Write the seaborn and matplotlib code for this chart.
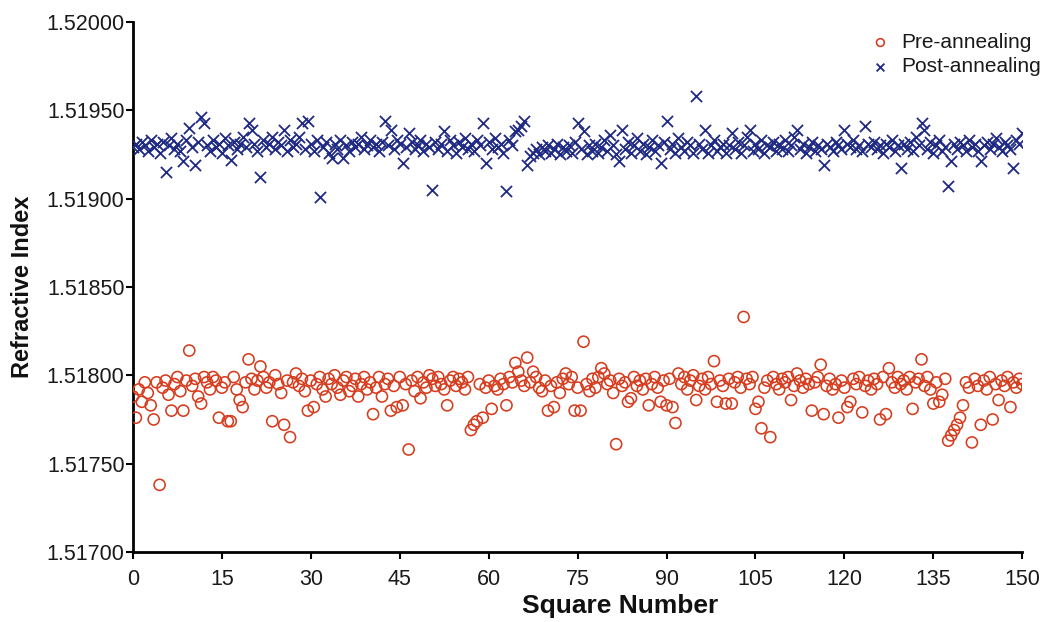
import numpy as np
import pandas as pd
import matplotlib
matplotlib.use("Agg")
import matplotlib.pyplot as plt
from matplotlib.ticker import FormatStrFormatter
import seaborn as sns

# Square numbers (two measurements per unit step)
square = np.arange(0, 150.5, 0.5)

# Refractive index before annealing
pre_annealing = [
    1.51788, 1.51776, 1.51792, 1.51785, 1.51796, 1.51790, 1.51783, 1.51775, 1.51796, 1.51738,
    1.51793, 1.51797, 1.51789, 1.51780, 1.51795, 1.51799, 1.51791, 1.51780, 1.51797, 1.51814,
    1.51794, 1.51798, 1.51788, 1.51784, 1.51799, 1.51796, 1.51792, 1.51799, 1.51797, 1.51776,
    1.51793, 1.51796, 1.51774, 1.51774, 1.51799, 1.51792, 1.51786, 1.51782, 1.51796, 1.51809,
    1.51798, 1.51792, 1.51797, 1.51805, 1.51799, 1.51793, 1.51796, 1.51774, 1.51800, 1.51795,
    1.51790, 1.51772, 1.51797, 1.51765, 1.51796, 1.51801, 1.51794, 1.51798, 1.51791, 1.51780,
    1.51797, 1.51782, 1.51795, 1.51799, 1.51792, 1.51788, 1.51798, 1.51795, 1.51800, 1.51793,
    1.51789, 1.51797, 1.51799, 1.51791, 1.51794, 1.51798, 1.51788, 1.51795, 1.51799, 1.51792,
    1.51796, 1.51778, 1.51793, 1.51799, 1.51788, 1.51795, 1.51798, 1.51780, 1.51794, 1.51782,
    1.51799, 1.51783, 1.51795, 1.51758, 1.51797, 1.51791, 1.51799, 1.51787, 1.51796, 1.51793,
    1.51800, 1.51798, 1.51794, 1.51799, 1.51795, 1.51792, 1.51783, 1.51797, 1.51799, 1.51794,
    1.51798, 1.51796, 1.51792, 1.51799, 1.51769, 1.51772, 1.51774, 1.51795, 1.51776, 1.51793,
    1.51797, 1.51781, 1.51794, 1.51792, 1.51798, 1.51795, 1.51783, 1.51799, 1.51796, 1.51807,
    1.51802, 1.51797, 1.51794, 1.51810, 1.51796, 1.51802, 1.51799, 1.51793, 1.51791, 1.51797,
    1.51780, 1.51794, 1.51782, 1.51796, 1.51790, 1.51798, 1.51801, 1.51795, 1.51799, 1.51780,
    1.51793, 1.51780, 1.51819, 1.51795, 1.51791, 1.51798, 1.51793, 1.51799, 1.51804, 1.51801,
    1.51795, 1.51797, 1.51790, 1.51761, 1.51798, 1.51794, 1.51796, 1.51785, 1.51787, 1.51799,
    1.51794, 1.51797, 1.51792, 1.51798, 1.51783, 1.51795, 1.51799, 1.51793, 1.51785, 1.51797,
    1.51783, 1.51798, 1.51782, 1.51773, 1.51801, 1.51795, 1.51799, 1.51792, 1.51797, 1.51800,
    1.51786, 1.51794, 1.51798, 1.51792, 1.51799, 1.51795, 1.51808, 1.51785, 1.51797, 1.51794,
    1.51784, 1.51798, 1.51784, 1.51796, 1.51799, 1.51793, 1.51833, 1.51798, 1.51795, 1.51799,
    1.51781, 1.51785, 1.51770, 1.51793, 1.51797, 1.51765, 1.51799, 1.51795, 1.51792, 1.51798,
    1.51796, 1.51799, 1.51786, 1.51794, 1.51801, 1.51797, 1.51793, 1.51798, 1.51795, 1.51780,
    1.51796, 1.51799, 1.51806, 1.51778, 1.51794, 1.51798, 1.51792, 1.51795, 1.51776, 1.51797,
    1.51793, 1.51782, 1.51785, 1.51798, 1.51795, 1.51799, 1.51779, 1.51794, 1.51797, 1.51792,
    1.51798, 1.51795, 1.51775, 1.51799, 1.51778, 1.51804, 1.51796, 1.51793, 1.51799, 1.51795,
    1.51797, 1.51792, 1.51799, 1.51781, 1.51796, 1.51798, 1.51809, 1.51794, 1.51799, 1.51792,
    1.51784, 1.51796, 1.51785, 1.51789, 1.51798, 1.51763, 1.51766, 1.51769, 1.51772, 1.51776,
    1.51783, 1.51796, 1.51793, 1.51762, 1.51798, 1.51794, 1.51772, 1.51797, 1.51792, 1.51799,
    1.51775, 1.51795, 1.51786, 1.51797, 1.51794, 1.51799, 1.51782, 1.51796, 1.51793, 1.51798,
    1.51795,
]

# Refractive index after annealing
post_annealing = [
    1.51929, 1.51931, 1.51928, 1.51932, 1.51930, 1.51927, 1.51933, 1.51929, 1.51931, 1.51926,
    1.51932, 1.51915, 1.51930, 1.51934, 1.51928, 1.51931, 1.51927, 1.51921, 1.51933, 1.51940,
    1.51929, 1.51919, 1.51932, 1.51946, 1.51943, 1.51930, 1.51927, 1.51933, 1.51929, 1.51931,
    1.51926, 1.51934, 1.51930, 1.51922, 1.51932, 1.51928, 1.51931, 1.51935, 1.51929, 1.51943,
    1.51939, 1.51931, 1.51927, 1.51912, 1.51933, 1.51929, 1.51931, 1.51935, 1.51928, 1.51932,
    1.51930, 1.51939, 1.51927, 1.51933, 1.51929, 1.51931, 1.51935, 1.51943, 1.51928, 1.51944,
    1.51931, 1.51927, 1.51933, 1.51901, 1.51929, 1.51932, 1.51926, 1.51923, 1.51931, 1.51928,
    1.51933, 1.51923, 1.51930, 1.51927, 1.51932, 1.51929, 1.51931, 1.51935, 1.51928, 1.51930,
    1.51933, 1.51929, 1.51931, 1.51927, 1.51932, 1.51944, 1.51930, 1.51939, 1.51928, 1.51933,
    1.51931, 1.51920, 1.51929, 1.51937, 1.51932, 1.51928, 1.51930, 1.51933, 1.51927, 1.51931,
    1.51929, 1.51905, 1.51932, 1.51928, 1.51931, 1.51938, 1.51927, 1.51933, 1.51930, 1.51926,
    1.51932, 1.51929, 1.51934, 1.51928, 1.51931, 1.51927, 1.51933, 1.51930, 1.51943, 1.51920,
    1.51932, 1.51928, 1.51934, 1.51929, 1.51931, 1.51926, 1.51904, 1.51933, 1.51930, 1.51938,
    1.51939, 1.51941, 1.51944, 1.51919, 1.51924, 1.51926, 1.51928, 1.51925, 1.51929, 1.51927,
    1.51930, 1.51926, 1.51928, 1.51931, 1.51925, 1.51929, 1.51927, 1.51930, 1.51926, 1.51932,
    1.51943, 1.51928, 1.51938, 1.51925, 1.51930, 1.51927, 1.51931, 1.51926, 1.51929, 1.51933,
    1.51927, 1.51936, 1.51930, 1.51925, 1.51921, 1.51939, 1.51928, 1.51932, 1.51926, 1.51930,
    1.51934, 1.51927, 1.51931, 1.51925, 1.51929, 1.51933, 1.51927, 1.51930, 1.51920, 1.51932,
    1.51944, 1.51928, 1.51931, 1.51926, 1.51934, 1.51929, 1.51927, 1.51932, 1.51930, 1.51926,
    1.51958, 1.51931, 1.51928, 1.51939, 1.51926, 1.51930, 1.51933, 1.51927, 1.51929, 1.51931,
    1.51926, 1.51930, 1.51937, 1.51928, 1.51932, 1.51926, 1.51930, 1.51935, 1.51939, 1.51927,
    1.51931, 1.51928, 1.51933, 1.51926, 1.51930, 1.51929, 1.51932, 1.51927, 1.51931, 1.51928,
    1.51933, 1.51927, 1.51930, 1.51935, 1.51939, 1.51928, 1.51931, 1.51926, 1.51929, 1.51932,
    1.51927, 1.51930, 1.51928, 1.51919, 1.51931, 1.51929, 1.51927, 1.51932, 1.51930, 1.51928,
    1.51939, 1.51931, 1.51929, 1.51933, 1.51928, 1.51930, 1.51927, 1.51941, 1.51931, 1.51929,
    1.51932, 1.51928, 1.51930, 1.51926, 1.51931, 1.51929, 1.51933, 1.51927, 1.51930, 1.51917,
    1.51931, 1.51928, 1.51932, 1.51927, 1.51935, 1.51930, 1.51943, 1.51939, 1.51928, 1.51932,
    1.51926, 1.51930, 1.51933, 1.51927, 1.51929, 1.51907, 1.51921, 1.51931, 1.51928, 1.51932,
    1.51930, 1.51927, 1.51933, 1.51929, 1.51931, 1.51927, 1.51921, 1.51930, 1.51932, 1.51928,
    1.51931, 1.51934, 1.51929, 1.51927, 1.51932, 1.51930, 1.51928, 1.51917, 1.51933, 1.51931,
    1.51937,
]

series_labels = ["Pre-annealing", "Post-annealing"]
x_ticks = [0, 15, 30, 45, 60, 75, 90, 105, 120, 135, 150]
y_ticks = [1.51700, 1.51750, 1.51800, 1.51850, 1.51900, 1.51950, 1.52000]

sns.set_theme(style="white")
plt.rcParams["font.family"] = ["Liberation Sans", "DejaVu Sans"]

fig = plt.figure(figsize=(10.55, 6.22), dpi=100)
ax = fig.add_axes([0.126, 0.1125, 0.843, 0.8525])

red = "#d63c1e"
navy = "#1f2a84"

sns.scatterplot(x=square, y=pre_annealing, ax=ax, marker="o", s=64,
                facecolor="none", edgecolor=red, linewidth=1.15,
                label=series_labels[0], zorder=3)
sns.scatterplot(x=square, y=post_annealing, ax=ax, marker="x", s=64,
                color=navy, linewidth=1.3, label=series_labels[1], zorder=3)

ax.set_xlim(0, 150)
ax.set_ylim(1.51700, 1.52000)
ax.set_xticks(x_ticks)
ax.set_yticks(y_ticks)
ax.yaxis.set_major_formatter(FormatStrFormatter("%.5f"))

for side in ["top", "right"]:
    ax.spines[side].set_visible(False)
for side in ["left", "bottom"]:
    ax.spines[side].set_color("black")
    ax.spines[side].set_linewidth(2.0)

ax.tick_params(axis="both", which="major", direction="out", length=5, width=1.5,
               color="black", labelsize=15.5, labelcolor="#1a1a1a", bottom=True, left=True)
ax.tick_params(axis="x", pad=7)
ax.tick_params(axis="y", pad=1)

ax.set_xlabel("Square Number", fontsize=19, fontweight="bold", color="#111111")
ax.xaxis.set_label_coords(0.548, -0.080)
ax.set_ylabel("Refractive Index", fontsize=17, fontweight="bold", color="#111111")
ax.yaxis.set_label_coords(-0.124, 0.5)
ax.yaxis.label.set_va("center")

leg = ax.legend(loc="upper left", bbox_to_anchor=(870 / 1055, 1 - 33 / 622),
                bbox_transform=fig.transFigure, frameon=False, borderpad=0,
                borderaxespad=0, fontsize=15, markerscale=0.7, handlelength=1.0,
                handletextpad=0.5, labelspacing=0.25)
for text in leg.get_texts():
    text.set_color("#1a1a1a")

fig.savefig("out.png", dpi=100)
